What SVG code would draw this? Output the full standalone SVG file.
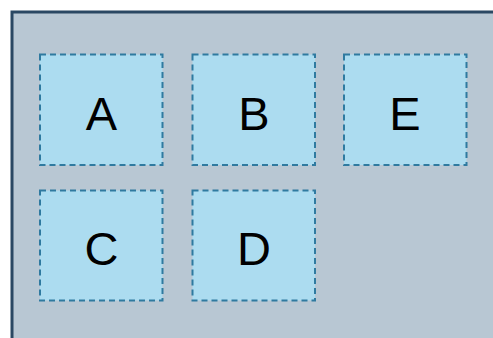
<svg xmlns="http://www.w3.org/2000/svg" width="493" height="338" viewBox="0 0 493 338">
<style>
.box{fill:#acdcf0;stroke:#2f7aa0;stroke-width:2;stroke-dasharray:6 4}
.lbl{font-family:"Liberation Sans",Arial,sans-serif;font-size:47px;fill:#000;text-anchor:middle}
</style>
<rect x="0" y="0" width="493" height="338" fill="#ffffff"/>
<rect id="container" x="12" y="12" width="490" height="340" fill="#b8c7d3" stroke="#2a4863" stroke-width="3"/>
<g id="A"><rect class="box" x="40" y="54.5" width="122.5" height="110.5"/><text class="lbl" x="101.5" y="129.5">A</text></g>
<g id="B"><rect class="box" x="192.5" y="54.5" width="122.5" height="110.5"/><text class="lbl" x="254" y="129.5">B</text></g>
<g id="E"><rect class="box" x="344" y="54.5" width="122.5" height="110.5"/><text class="lbl" x="405" y="129.5">E</text></g>
<g id="C"><rect class="box" x="40" y="190.5" width="122.5" height="110"/><text class="lbl" x="101.5" y="265">C</text></g>
<g id="D"><rect class="box" x="192.5" y="190.5" width="122.5" height="110"/><text class="lbl" x="254" y="265">D</text></g>
<g id="connectors"></g>
</svg>
